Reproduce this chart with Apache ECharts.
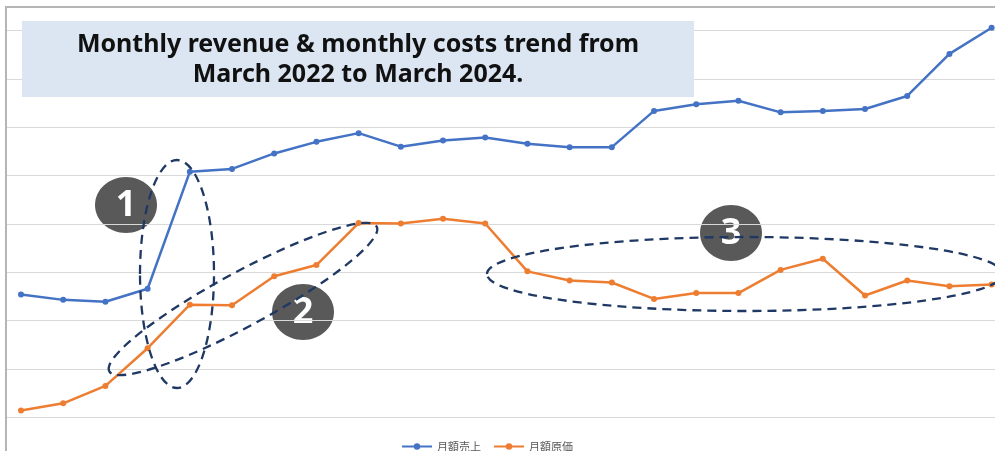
<!DOCTYPE html>
<html>
<head>
<meta charset="utf-8">
<script src="https://cdn.jsdelivr.net/npm/echarts@6/dist/echarts.min.js"></script>
<style>
  html, body { margin: 0; padding: 0; background: #fff; }
  #chart { width: 995px; height: 451px; }
</style>
</head>
<body>
<div id="chart"></div>
<script>
// 月ラベル（24点）
const months = [
    '2022/03', '2022/04', '2022/05', '2022/06', '2022/07', '2022/08',
    '2022/09', '2022/10', '2022/11', '2022/12', '2023/01', '2023/02',
    '2023/03', '2023/04', '2023/05', '2023/06', '2023/07', '2023/08',
    '2023/09', '2023/10', '2023/11', '2023/12', '2024/01', '2024/02'
];
// 月額売上
const revenue = [
    25.4, 24.3, 23.9, 26.6, 50.8, 51.4, 54.6, 57.0, 58.8, 56.0, 57.3, 57.9,
    56.6, 55.9, 55.9, 63.4, 64.8, 65.5, 63.1, 63.4, 63.8, 66.5, 75.2, 80.6
];
// 月額原価
const costs = [
    1.4, 2.9, 6.5, 14.3, 23.3, 23.2, 29.2, 31.5, 40.2, 40.1, 41.1, 40.1,
    30.2, 28.3, 27.9, 24.5, 25.7, 25.7, 30.5, 32.8, 25.2, 28.3, 27.1, 27.5
];
const seriesNames = ['月額売上', '月額原価'];
const titleText = 'Monthly revenue & monthly costs trend from\nMarch 2022 to March 2024.';

let mychart = echarts.init(document.getElementById('chart'));

// 注記用の破線楕円
function dashedEllipse(x, y, rx, ry, rot) {
    return {
        type: 'ellipse',
        x: x,
        y: y,
        rotation: rot,
        z: 110,
        shape: { cx: 0, cy: 0, rx: rx, ry: ry },
        style: { fill: null, stroke: '#1f3864', lineWidth: 2.3, lineDash: [9, 6] }
    };
}
// 番号バッジ
function badge(x, y, label) {
    return {
        type: 'group',
        x: x,
        y: y,
        z: 105,
        children: [
            { type: 'ellipse', shape: { cx: 0, cy: 0, rx: 31, ry: 28 }, style: { fill: '#595959' } },
            {
                type: 'text',
                style: {
                    text: label, x: 0, y: 1, align: 'center', verticalAlign: 'middle',
                    fill: '#fff', fontSize: 36, fontWeight: 'bold', fontFamily: 'Noto Sans'
                }
            }
        ]
    };
}

mychart.setOption({
    animation: false,
    tooltip: { trigger: 'axis' },
    legend: {
        data: seriesNames,
        left: 396,
        top: 436,
        itemWidth: 30,
        itemHeight: 8,
        itemGap: 12,
        textStyle: { color: '#595959', fontSize: 11, fontFamily: 'Noto Sans CJK JP' }
    },
    grid: {
        left: 7,
        right: 0,
        top: 30.7,
        bottom: 33.7
    },
    xAxis: {
        type: 'value',
        min: -0.332,
        max: 23.08,
        axisLine: { show: false },
        axisTick: { show: false },
        axisLabel: { show: false },
        splitLine: { show: false }
    },
    yAxis: {
        type: 'value',
        min: 0,
        max: 80,
        interval: 10,
        axisLine: { show: false },
        axisTick: { show: false },
        axisLabel: { show: false },
        splitLine: { lineStyle: { color: '#d9d9d9', width: 1 } }
    },
    graphic: [
        // 外枠
        {
            type: 'rect', z: 1,
            shape: { x: 6, y: 7, width: 1000, height: 460 },
            style: { fill: null, stroke: '#b5b5b5', lineWidth: 2 }
        },
        // タイトル背景
        {
            type: 'rect', z: 100,
            shape: { x: 22, y: 21, width: 672, height: 76 },
            style: { fill: '#dce6f2' }
        },
        {
            type: 'text', z: 101,
            style: {
                text: titleText, x: 358, y: 60, align: 'center', verticalAlign: 'middle',
                fill: '#111', fontSize: 25, lineHeight: 30, fontWeight: 'bold', fontFamily: 'Noto Sans'
            }
        },
        badge(126, 205, '1'),
        badge(303, 312, '2'),
        badge(731, 233, '3'),
        dashedEllipse(177, 274, 37, 114, 0),
        dashedEllipse(243, 299, 152, 27, 0.496),
        dashedEllipse(745, 274, 258, 37, 0)
    ],
    series: [
        {
            name: seriesNames[0],
            type: 'line',
            clip: false,
            symbol: 'circle',
            symbolSize: 6,
            itemStyle: { color: '#4472c4' },
            lineStyle: { color: '#4472c4', width: 2.5 },
            data: revenue.map((v, i) => [i, v])
        },
        {
            name: seriesNames[1],
            type: 'line',
            clip: false,
            symbol: 'circle',
            symbolSize: 6,
            itemStyle: { color: '#ed7d31' },
            lineStyle: { color: '#ed7d31', width: 2.5 },
            data: costs.map((v, i) => [i, v])
        }
    ]
});
</script>
</body>
</html>
